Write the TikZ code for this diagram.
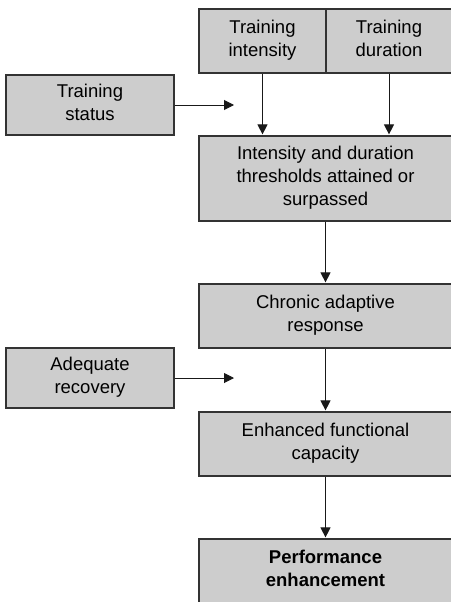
\documentclass[tikz,border=0pt]{standalone}
\usepackage{fontspec}
\setmainfont{Liberation Sans}
\usetikzlibrary{arrows.meta}
\definecolor{boxgray}{HTML}{CDCDCD}
\tikzset{
  box/.style={draw=black!80, line width=1.2pt, fill=boxgray, align=center, inner sep=0pt,
    minimum width=253pt, minimum height=64pt, font=\fontsize{18.5}{23}\selectfont,
    execute at begin node=\rule{0pt}{26pt}, execute at end node=\rule[-4.5pt]{0pt}{4.5pt}},
  sidebox/.style={box, minimum width=168pt, minimum height=60pt},
  arr/.style={-{Triangle[length=10pt,width=10pt]}, line width=1pt, black!90, shorten >=1pt}
}

\begin{document}
\begin{tikzpicture}[x=1pt,y=-1pt]
  \useasboundingbox (0,0) rectangle (450,602);
  \node (intens) [box, minimum width=127pt] at (262.5,41) {Training\\intensity};
  \node (durat) [box, minimum width=126pt] at (389,41) {Training\\duration};
  \node (status) [sidebox] at (90,105) {Training\\status};
  \node (thresh) [box, minimum height=85pt] at (325.5,178.5) {Intensity and duration\\thresholds attained or\\surpassed};
  \node (chronic) [box] at (325.5,316) {Chronic adaptive\\response};
  \node (recov) [sidebox] at (90,378) {Adequate\\recovery};
  \node (enhance) [box] at (325.5,444) {Enhanced functional\\capacity};
  \node (perf) [box] at (325.5,571) {\textbf{Performance}\\\textbf{enhancement}};
  \coordinate (statusend) at (235,105);
  \coordinate (recovend) at (235,378);
  \draw[arr] (status.east) -- (statusend);
  \draw[arr] (recov.east) -- (recovend);
  \draw[arr] (intens.south) -- (intens.south |- thresh.north);
  \draw[arr] (durat.south) -- (durat.south |- thresh.north);
  \draw[arr] (thresh) -- (chronic);
  \draw[arr] (chronic) -- (enhance);
  \draw[arr] (enhance) -- (perf);
\end{tikzpicture}
\end{document}
